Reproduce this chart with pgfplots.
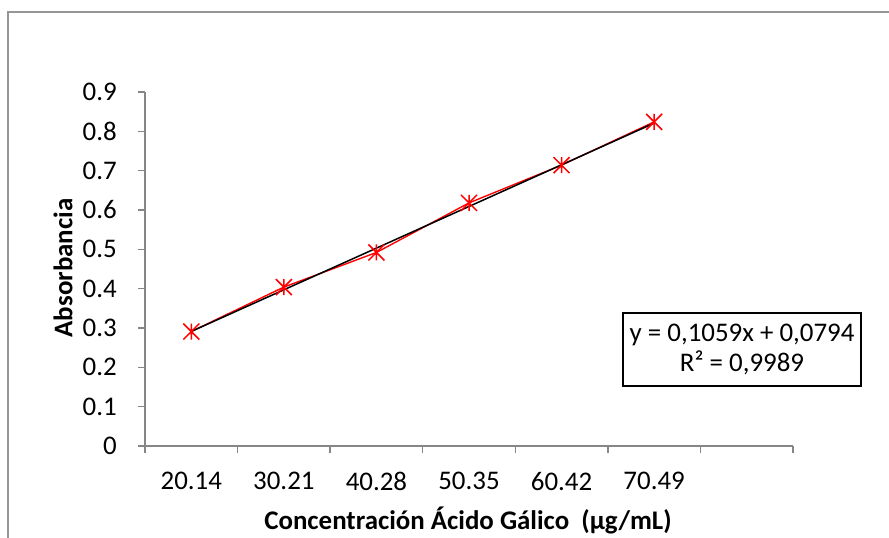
\documentclass[border=0pt]{standalone}
\usepackage{pgfplots}
\pgfplotsset{compat=1.18}
\usepackage{fontspec}
\setmainfont{Carlito}
\definecolor{axgray}{RGB}{134,134,134}
\definecolor{frgray}{RGB}{150,150,150}
\pgfdeclareplotmark{xstar}{%
  \pgfpathmoveto{\pgfqpoint{0pt}{\pgfplotmarksize}}%
  \pgfpathlineto{\pgfqpoint{0pt}{-\pgfplotmarksize}}%
  \pgfpathmoveto{\pgfqpoint{-\pgfplotmarksize}{-\pgfplotmarksize}}%
  \pgfpathlineto{\pgfqpoint{\pgfplotmarksize}{\pgfplotmarksize}}%
  \pgfpathmoveto{\pgfqpoint{-\pgfplotmarksize}{\pgfplotmarksize}}%
  \pgfpathlineto{\pgfqpoint{\pgfplotmarksize}{-\pgfplotmarksize}}%
  \pgfusepathqstroke}
\begin{document}
\begin{tikzpicture}[x=1bp,y=1bp]
\useasboundingbox (0,0) rectangle (889,538);
\draw[frgray, line width=1.5bp] (8,0) -- (8,526) -- (889,526);
\begin{axis}[
  at={(145bp,92bp)}, anchor=south west,
  scale only axis, width=648bp, height=354bp,
  xmin=0.5, xmax=7.5, ymin=0, ymax=0.9,
  axis x line=bottom, axis y line=left,
  axis line style={-, draw=axgray, line width=1.3bp},
  tick align=outside,
  xtick={1,2,3,4,5,6},
  xticklabels={20.14,30.21,40.28,50.35,60.42,70.49},
  major x tick style={draw=none},
  minor xtick={0.5,1.5,2.5,3.5,4.5,5.5,6.5,7.5},
  minor tick length=7bp,
  minor tick style={draw=axgray, line width=1.3bp},
  ytick={0,0.1,0.2,0.3,0.4,0.5,0.6,0.7,0.8,0.9},
  yticklabels={0,0.1,0.2,0.3,0.4,0.5,0.6,0.7,0.8,0.9},
  major tick length=7bp,
  major y tick style={draw=axgray, line width=1.3bp},
  tick label style={font=\fontsize{27}{31}\selectfont, text=black},
  yticklabel style={inner sep=0pt, xshift=-21bp},
  xticklabel style={inner sep=0pt, yshift=-19bp},
  clip=false,
]
\addplot[red, line width=1.4bp, mark=xstar, mark size=8bp, mark options={line width=1.5bp}]
  coordinates {(1,0.291) (2,0.404) (3,0.492) (4,0.618) (5,0.714) (6,0.824)};
\addplot[black, line width=1.5bp] coordinates {(1,0.2912) (6,0.8208)};
\end{axis}
\node[rotate=90, font=\fontsize{27}{31}\selectfont\bfseries] at (63,270) {Absorbancia};
\node[font=\fontsize{27}{31}\selectfont\bfseries] at (468,18) {Concentración Ácido Gálico\ \ (µg/mL)};
\node[draw=black, line width=1.5bp, align=center, minimum width=238bp, minimum height=73bp, inner sep=0pt,
  font=\fontsize{27}{31}\selectfont] at (742,188.5) {y = 0,1059x + 0,0794\\R² = 0,9989};
\end{tikzpicture}
\end{document}
